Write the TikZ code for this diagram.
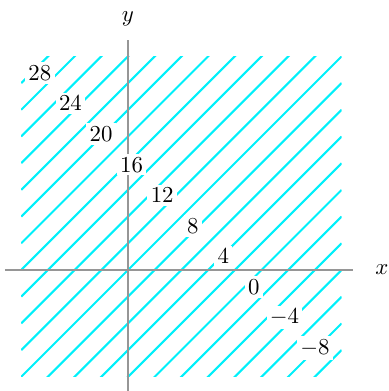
\documentclass[tikz,border=0pt]{standalone}
\usepackage{tikz}
\usetikzlibrary{positioning}
\usepackage{amsmath,amssymb}
\usepackage{xcolor}

\definecolor{hatchcyan}{RGB}{0,240,250}
\definecolor{axisgray}{RGB}{150,150,150}

\begin{document}
\begin{tikzpicture}[
    x=0.45cm, y=0.45cm,
    hatch/.style={draw=hatchcyan, line width=1pt},
    axis/.style={draw=axisgray, line width=0.6pt},
    level/.style={fill=white, inner sep=1.6pt, font=\fontsize{11}{13}\selectfont}
]

\useasboundingbox (-4.794,-4.532) rectangle (9.738,10.112);

% level lines
\begin{scope}
\clip (-4,-4) rectangle (8,8);
\foreach \k in {-11,...,11}
    \draw [hatch] (-4,-4+\k) -- (8,8+\k);
\end{scope}

% axes
\coordinate (xl) at (-4.61,0);
\coordinate (xr) at (8.43,0);
\coordinate (yb) at (0,-4.6);
\coordinate (yt) at (0,8.61);
\draw [axis] (xl) -- (xr);
\draw [axis] (yb) -- (yt);
\node (xlab) [right=0.25cm of xr, font=\fontsize{11}{13}\selectfont] {$x$};
\node (ylab) [above=0.12cm of yt, font=\fontsize{11}{13}\selectfont] {$y$};

% values
\foreach \v [count=\i from 0] in {28,24,20,16,12,8,4,0,-4,-8}
    \node (val\i) [level] at (-3.3+1.145*\i, 7.38-1.145*\i) {$\v$};

\end{tikzpicture}
\end{document}
